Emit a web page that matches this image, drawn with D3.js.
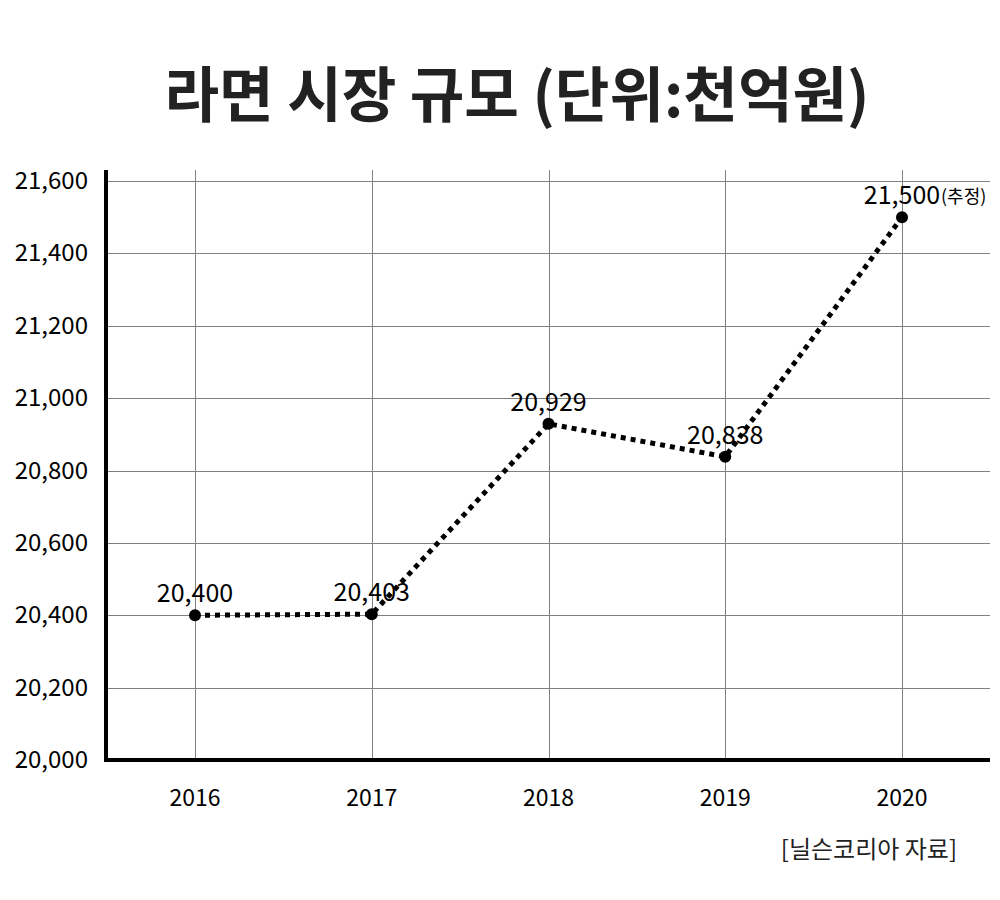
<!DOCTYPE html>
<html>
<head>
<meta charset="utf-8">
<script src="https://cdn.jsdelivr.net/npm/d3@7/dist/d3.min.js"></script>
<title>라면 시장 규모</title>
<style>
body { margin: 0; background: #fff; }
text { font-family: "Noto Sans CJK KR", "Noto Sans", sans-serif; }
</style>
</head>
<body>
<script>

// data
var years = ["2016", "2017", "2018", "2019", "2020"];
var values = [20400, 20403, 20929, 20838, 21500];
var valueLabels = ["20,400", "20,403", "20,929", "20,838", "21,500"];
var yTicks = [20000, 20200, 20400, 20600, 20800, 21000, 21200, 21400, 21600];

var width = 1000,
    height = 900;

var svg = d3.select("body")
  .append("svg")
  .attr("width", width)
  .attr("height", height);

var plotLeft = 106, plotRight = 990, plotTop = 170, plotBottom = 760;

var x = d3.scalePoint()
    .domain(years)
    .range([195, 902]);

var y = d3.scaleLinear()
    .domain([20000, 21600])
    .range([plotBottom, 181]);

// title
svg.append("text")
  .attr("x", 517)
  .attr("y", 117)
  .attr("text-anchor", "middle")
  .attr("font-size", 60)
  .attr("font-weight", 700)
  .attr("fill", "#222")
  .attr("textLength", 705)
  .attr("lengthAdjust", "spacingAndGlyphs")
  .text("라면 시장 규모 (단위:천억원)");

// grid
var g = svg.append("g");

g.selectAll(".hgrid")
  .data(yTicks.slice(1))
  .enter()
  .append("line")
  .attr("x1", plotLeft)
  .attr("x2", plotRight)
  .attr("y1", function(d) { return Math.round(y(d)) + 0.5; })
  .attr("y2", function(d) { return Math.round(y(d)) + 0.5; })
  .attr("stroke", "#808080")
  .attr("stroke-width", 1);

g.selectAll(".vgrid")
  .data(years)
  .enter()
  .append("line")
  .attr("x1", function(d) { return Math.round(x(d)) + 0.5; })
  .attr("x2", function(d) { return Math.round(x(d)) + 0.5; })
  .attr("y1", plotTop)
  .attr("y2", plotBottom)
  .attr("stroke", "#808080")
  .attr("stroke-width", 1);

// axes lines
g.append("line")
  .attr("x1", plotLeft).attr("x2", plotLeft)
  .attr("y1", plotTop).attr("y2", plotBottom + 2)
  .attr("stroke", "#000").attr("stroke-width", 4);

g.append("line")
  .attr("x1", plotLeft - 2).attr("x2", plotRight)
  .attr("y1", plotBottom).attr("y2", plotBottom)
  .attr("stroke", "#000").attr("stroke-width", 4);

// y tick labels
g.selectAll(".ylab")
  .data(yTicks)
  .enter()
  .append("text")
  .attr("x", 88)
  .attr("y", function(d) { return y(d) + 8; })
  .attr("text-anchor", "end")
  .attr("font-size", 24)
  .attr("fill", "#000")
  .text(function(d) { return d3.format(",")(d); });

// x tick labels
g.selectAll(".xlab")
  .data(years)
  .enter()
  .append("text")
  .attr("x", function(d) { return x(d); })
  .attr("y", 806)
  .attr("text-anchor", "middle")
  .attr("font-size", 23)
  .attr("fill", "#000")
  .text(function(d) { return d; });

// line
var line = d3.line()
    .x(function(d, i) { return x(years[i]); })
    .y(function(d) { return y(d); });

g.append("path")
  .datum(values)
  .attr("d", line)
  .attr("fill", "none")
  .attr("stroke", "#000")
  .attr("stroke-width", 5)
  .attr("stroke-dasharray", "5,5");

g.selectAll(".dot")
  .data(values)
  .enter()
  .append("circle")
  .attr("cx", function(d, i) { return x(years[i]); })
  .attr("cy", function(d) { return y(d); })
  .attr("r", 6)
  .attr("fill", "#000");

// value labels
g.selectAll(".vlab")
  .data(values)
  .enter()
  .append("text")
  .attr("x", function(d, i) { return x(years[i]); })
  .attr("y", function(d) { return y(d) - 13; })
  .attr("text-anchor", "middle")
  .attr("font-size", 25)
  .attr("fill", "#000")
  .text(function(d, i) { return valueLabels[i]; });

g.append("text")
  .attr("x", 941)
  .attr("y", y(21500) - 14)
  .attr("font-size", 18)
  .attr("fill", "#000")
  .text("(추정)");

// source
svg.append("text")
  .attr("x", 957)
  .attr("y", 858)
  .attr("text-anchor", "end")
  .attr("font-size", 24)
  .attr("fill", "#222")
  .text("[닐슨코리아 자료]");

</script>
</body>
</html>
